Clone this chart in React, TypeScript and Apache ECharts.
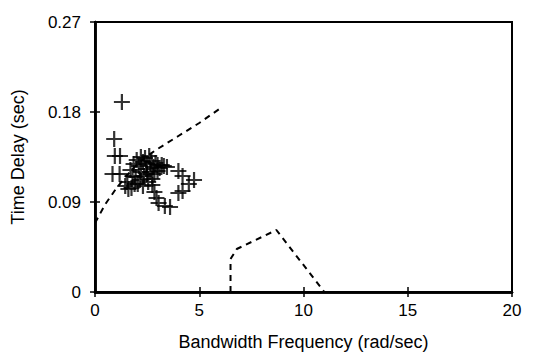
import React, { useEffect, useRef } from "react";
import * as echarts from "echarts";

const xTicks = [0, 5, 10, 15, 20];
const yTicks = [0, 0.09, 0.18, 0.27];

const bwFreq = [
  1.29, 0.92, 0.95, 1.2, 0.84, 1.18,
  1.45, 1.6, 1.75, 1.55, 1.9,
  1.7, 1.85, 2.0, 2.1, 2.2, 2.3, 2.4, 2.5, 2.6, 2.7, 2.8, 2.9, 3.0, 3.1, 3.2, 3.3, 3.45,
  1.95, 2.15, 2.35, 2.5, 2.65, 2.75, 2.05, 2.3, 1.8, 2.55, 2.85, 3.0, 2.2, 2.45,
  2.75, 2.85, 2.95, 3.05, 3.35, 3.6,
  4.0, 4.2, 4.75, 4.5, 4.2, 4.0,
];
const timeDelay = [
  0.19, 0.153, 0.136, 0.136, 0.118, 0.118,
  0.106, 0.103, 0.104, 0.11, 0.108,
  0.122, 0.128, 0.132, 0.126, 0.12, 0.13, 0.134, 0.128, 0.136, 0.131, 0.125, 0.129, 0.127, 0.124, 0.127, 0.126, 0.125,
  0.115, 0.112, 0.116, 0.118, 0.12, 0.113, 0.108, 0.106, 0.116, 0.11, 0.118, 0.121, 0.135, 0.123,
  0.107, 0.1, 0.094, 0.089, 0.086, 0.085,
  0.121, 0.116, 0.112, 0.108, 0.101, 0.099,
];

const bound1X = [0, 0.5, 1, 1.5, 2, 2.5, 3, 4, 5, 6.1];
const bound1Y = [0.069, 0.088, 0.103, 0.116, 0.127, 0.136, 0.143, 0.156, 0.169, 0.185];

const bound2X = [6.5, 6.5, 6.8, 8.7, 11.0];
const bound2Y = [0, 0.033, 0.043, 0.062, 0];

const FONT = "Liberation Sans, Arial, sans-serif";

export default function App() {
  const ref = useRef<HTMLDivElement>(null);
  useEffect(() => {
    if (!ref.current) return;
    const chart = echarts.init(ref.current, null, { renderer: "svg" });
    const scatterData = bwFreq.map((x, i) => [x, timeDelay[i]]);
    const b1 = bound1X.map((x, i) => [x, bound1Y[i]]);
    const b2 = bound2X.map((x, i) => [x, bound2Y[i]]);
    const xBase = {
      type: "value",
      min: xTicks[0],
      max: xTicks[xTicks.length - 1],
      interval: 5,
      position: "bottom",
      splitLine: { show: false },
      axisLine: { show: true, onZero: false, lineStyle: { color: "#000", width: 2.5 } },
    };
    const yBase = {
      type: "value",
      min: yTicks[0],
      max: yTicks[yTicks.length - 1],
      interval: 0.09,
      position: "left",
      splitLine: { show: false },
      axisLine: { show: true, onZero: false, lineStyle: { color: "#000", width: 2.5 } },
    };
    chart.setOption({
      animation: false,
      backgroundColor: "#fff",
      grid: {
        left: 95,
        right: 28,
        top: 22,
        bottom: 68,
        show: true,
        borderColor: "#000",
        borderWidth: 2,
      },
      xAxis: [
        {
          ...xBase,
          name: "Bandwidth Frequency (rad/sec)",
          nameLocation: "middle",
          nameGap: 41,
          nameTextStyle: { fontFamily: FONT, fontSize: 18, color: "#000" },
          axisTick: { show: true, inside: false, length: 5, lineStyle: { color: "#000", width: 1.5 } },
          axisLabel: { fontFamily: FONT, fontSize: 17, color: "#000", margin: 10 },
        },
        {
          ...xBase,
          axisTick: { show: true, inside: true, length: 5, lineStyle: { color: "#000", width: 1.5 } },
          axisLabel: { show: false },
        },
      ],
      yAxis: [
        {
          ...yBase,
          name: "Time Delay (sec)",
          nameLocation: "middle",
          nameGap: 68,
          nameTextStyle: { fontFamily: FONT, fontSize: 18, color: "#000" },
          axisTick: { show: true, inside: false, length: 5, lineStyle: { color: "#000", width: 1.5 } },
          axisLabel: {
            fontFamily: FONT,
            fontSize: 17,
            color: "#000",
            margin: 14,
            formatter: (v: number) => (v === 0 ? "0" : v.toFixed(2)),
          },
        },
        {
          ...yBase,
          axisTick: { show: true, inside: true, length: 5, lineStyle: { color: "#000", width: 1.5 } },
          axisLabel: { show: false },
        },
      ],
      series: [
        {
          type: "line",
          data: b1,
          showSymbol: false,
          symbol: "none",
          lineStyle: { color: "#000", width: 2, type: [6, 5] },
          z: 2,
        },
        {
          type: "line",
          data: b2,
          showSymbol: false,
          symbol: "none",
          lineStyle: { color: "#000", width: 2, type: [6, 5] },
          z: 2,
        },
        {
          type: "scatter",
          data: scatterData,
          symbol: "path://M0,-1L0,1M-1,0L1,0",
          symbolSize: 16,
          itemStyle: { color: "none", borderColor: "#000", borderWidth: 2.2 },
          z: 3,
        },
      ],
    });
    return () => chart.dispose();
  }, []);
  return <div ref={ref} style={{ width: 540, height: 360, margin: -8 }} />;
}
